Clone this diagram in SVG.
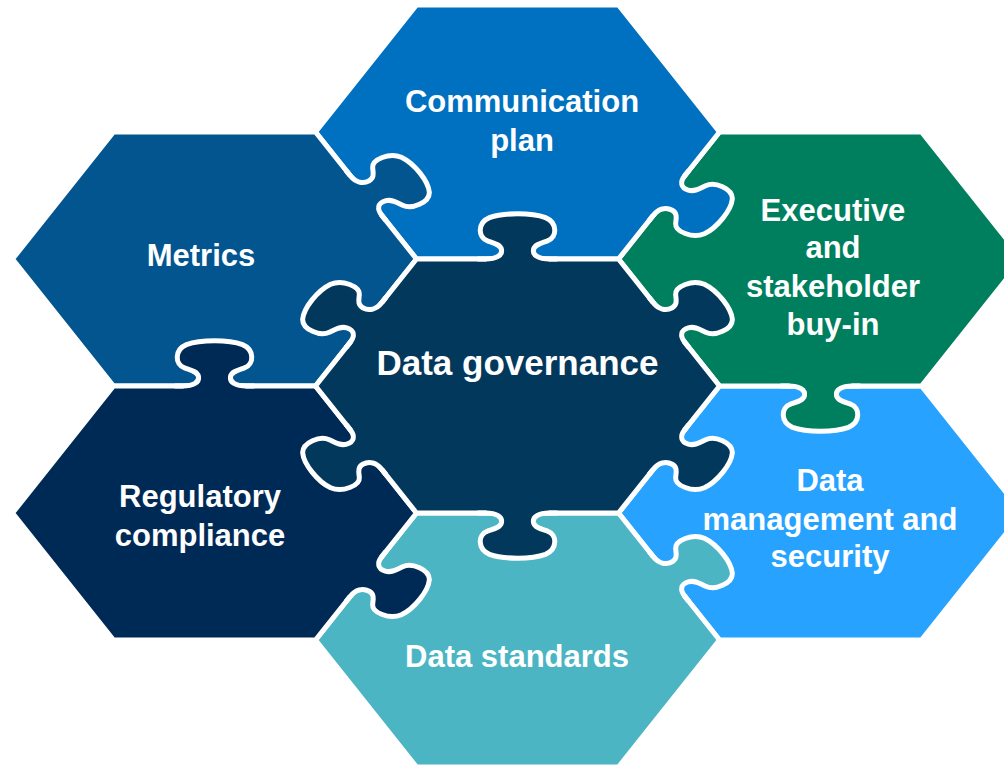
<svg xmlns="http://www.w3.org/2000/svg" xmlns:xlink="http://www.w3.org/1999/xlink" width="1004" height="765" viewBox="0 0 1004 765">
  <style>
    .lbl { font-family: "Liberation Sans", Arial, sans-serif; font-weight: bold; fill: #ffffff; font-size: 31px; text-anchor: middle; }
    .big { font-size: 35px; }
  </style>
  <defs>
    <polygon id="hex" points="202,0 101,174.93 -101,174.93 -202,0 -101,-174.93 101,-174.93" stroke="#ffffff" stroke-width="5" stroke-linejoin="miter" vector-effect="non-scaling-stroke"/>
    <path id="kf" d="M -32,0 C -21,0 -15,-5 -16,-13 C -17,-20 -24,-22 -30,-25 C -40,-30 -40,-50 -28,-57 C -14,-64 14,-64 28,-57 C 40,-50 40,-30 30,-25 C 24,-22 17,-20 16,-13 C 15,-5 21,0 32,0 L 30,6 L -30,6 Z"/>
    <path id="kl" d="M -40,0 L -32,0 C -21,0 -15,-5 -16,-13 C -17,-20 -24,-22 -30,-25 C -40,-30 -40,-50 -28,-57 C -14,-64 14,-64 28,-57 C 40,-50 40,-30 30,-25 C 24,-22 17,-20 16,-13 C 15,-5 21,0 32,0 L 40,0" fill="none" stroke="#ffffff" stroke-width="5" vector-effect="non-scaling-stroke"/>
  </defs>
  <rect width="1004" height="765" fill="#ffffff"/>

  <g id="node-data-management">
    <g transform="translate(517.5 386) scale(1 0.726)">
      <use href="#hex" x="303" y="174.93" fill="#27A3FF"/>
    </g>
    <text class="lbl" x="830" y="491">Data</text>
    <text class="lbl" x="830" y="530">management and</text>
    <text class="lbl" x="830" y="567">security</text>
  </g>

  <g id="node-executive">
    <g transform="translate(517.5 386) scale(1 0.726)">
      <use href="#hex" x="303" y="-174.93" fill="#007F5F"/>
      <use href="#kf" fill="#007F5F" transform="translate(303 0) rotate(180)"/>
      <use href="#kl" transform="translate(303 0) rotate(180)"/>
    </g>
    <text class="lbl" x="833" y="221">Executive</text>
    <text class="lbl" x="833" y="258">and</text>
    <text class="lbl" x="833" y="297">stakeholder</text>
    <text class="lbl" x="833" y="335">buy-in</text>
  </g>

  <g id="node-communication">
    <g transform="translate(517.5 386) scale(1 0.726)">
      <use href="#hex" x="0" y="-349.86" fill="#0070C0"/>
      <use href="#kf" fill="#0070C0" transform="translate(151.5 -262.4) rotate(120)"/>
      <use href="#kl" transform="translate(151.5 -262.4) rotate(120)"/>
    </g>
    <text class="lbl" x="522" y="112">Communication</text>
    <text class="lbl" x="522" y="151">plan</text>
  </g>

  <g id="node-metrics">
    <g transform="translate(517.5 386) scale(1 0.726)">
      <use href="#hex" x="-303" y="-174.93" fill="#02558F"/>
      <use href="#kf" fill="#02558F" transform="translate(-151.5 -262.4) rotate(60)"/>
      <use href="#kl" transform="translate(-151.5 -262.4) rotate(60)"/>
    </g>
    <text class="lbl" x="201" y="266">Metrics</text>
  </g>

  <g id="node-data-standards">
    <g transform="translate(517.5 386) scale(1 0.726)">
      <use href="#hex" x="0" y="349.86" fill="#4BB5C4"/>
      <use href="#kf" fill="#4BB5C4" transform="translate(151.5 262.4) rotate(60)"/>
      <use href="#kl" transform="translate(151.5 262.4) rotate(60)"/>
    </g>
    <text class="lbl" x="517" y="667">Data standards</text>
  </g>

  <g id="node-regulatory">
    <g transform="translate(517.5 386) scale(1 0.726)">
      <use href="#hex" x="-303" y="174.93" fill="#002A56"/>
      <use href="#kf" fill="#002A56" transform="translate(-151.5 262.4) rotate(120)"/>
      <use href="#kl" transform="translate(-151.5 262.4) rotate(120)"/>
      <use href="#kf" fill="#002A56" transform="translate(-303 0) rotate(0)"/>
      <use href="#kl" transform="translate(-303 0) rotate(0)"/>
    </g>
    <text class="lbl" x="200" y="507">Regulatory</text>
    <text class="lbl" x="200" y="546">compliance</text>
  </g>

  <g id="node-data-governance">
    <g transform="translate(517.5 386) scale(1 0.726)">
      <use href="#hex" x="0" y="0" fill="#03385D"/>
      <use href="#kf" fill="#03385D" transform="translate(0 -174.93) rotate(0)"/>
      <use href="#kl" transform="translate(0 -174.93) rotate(0)"/>
      <use href="#kf" fill="#03385D" transform="translate(0 174.93) rotate(180)"/>
      <use href="#kl" transform="translate(0 174.93) rotate(180)"/>
      <use href="#kf" fill="#03385D" transform="translate(-151.5 -87.47) rotate(-60)"/>
      <use href="#kl" transform="translate(-151.5 -87.47) rotate(-60)"/>
      <use href="#kf" fill="#03385D" transform="translate(-151.5 87.47) rotate(-120)"/>
      <use href="#kl" transform="translate(-151.5 87.47) rotate(-120)"/>
      <use href="#kf" fill="#03385D" transform="translate(151.5 -87.47) rotate(60)"/>
      <use href="#kl" transform="translate(151.5 -87.47) rotate(60)"/>
      <use href="#kf" fill="#03385D" transform="translate(151.5 87.47) rotate(120)"/>
      <use href="#kl" transform="translate(151.5 87.47) rotate(120)"/>
    </g>
    <text class="lbl big" x="517.5" y="375">Data governance</text>
  </g>

  <g id="connectors"/>
</svg>
